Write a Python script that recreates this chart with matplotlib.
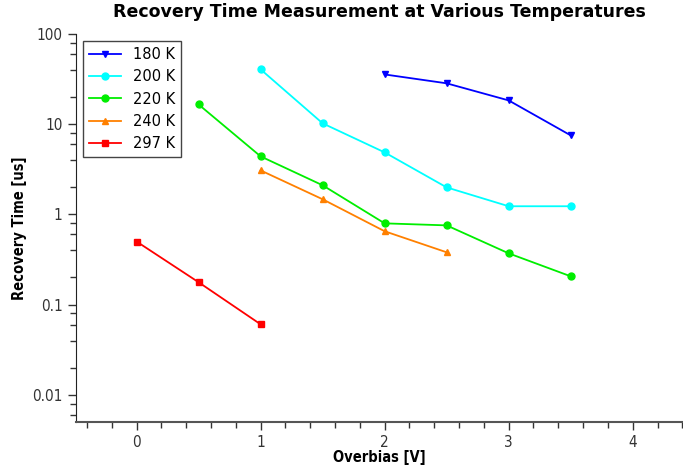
import numpy as np
import matplotlib
matplotlib.use("Agg")
import matplotlib.pyplot as plt
from matplotlib.ticker import MultipleLocator, LogLocator, FixedFormatter, FixedLocator

# Data
x_180 = [2.0, 2.5, 3.0, 3.5]
y_180 = [35.5, 28.3, 18.3, 7.5]

x_200 = [1.0, 1.5, 2.0, 2.5, 3.0, 3.5]
y_200 = [40.4, 10.2, 4.86, 1.99, 1.23, 1.23]

x_220 = [0.5, 1.0, 1.5, 2.0, 2.5, 3.0, 3.5]
y_220 = [16.5, 4.39, 2.1, 0.795, 0.755, 0.37, 0.206]

x_240 = [1.0, 1.5, 2.0, 2.5]
y_240 = [3.07, 1.47, 0.65, 0.38]

x_297 = [0.0, 0.5, 1.0]
y_297 = [0.50, 0.177, 0.0605]

series = [
    ("180 K", x_180, y_180, "#0000ff", "v"),
    ("200 K", x_200, y_200, "#00ffff", "o"),
    ("220 K", x_220, y_220, "#00ee00", "o"),
    ("240 K", x_240, y_240, "#ff8000", "^"),
    ("297 K", x_297, y_297, "#ff0000", "s"),
]

y_ticks = [0.01, 0.1, 1, 10, 100]
y_ticklabels = ["0.01", "0.1", "1", "10", "100"]

plt.rcParams["font.family"] = "DejaVu Sans"

fig = plt.figure(figsize=(6.83, 4.70), dpi=100)
ax = fig.add_axes([0.111, 0.102, 0.888, 0.826])

for label, xs, ys, color, marker in series:
    ax.plot(xs, ys, color=color, marker=marker, markersize=5, lw=1.3,
            label=label)

ax.set_yscale("log")
ax.set_xlim(-0.49, 4.4)
ax.set_ylim(0.005, 100)

ax.yaxis.set_major_locator(FixedLocator(y_ticks))
ax.yaxis.set_major_formatter(FixedFormatter(y_ticklabels))
ax.yaxis.set_minor_locator(LogLocator(base=10, subs=[2, 4, 6, 8]))
ax.yaxis.set_minor_formatter(plt.NullFormatter())
ax.xaxis.set_major_locator(MultipleLocator(1))
ax.xaxis.set_minor_locator(MultipleLocator(0.2))

ax.tick_params(which="major", length=6, width=1, labelsize=11,
               colors="#333333", labelcolor="#333333")
ax.tick_params(which="minor", length=4, width=1, colors="#333333")
for lbl in ax.get_xticklabels() + ax.get_yticklabels():
    lbl.set_fontstretch("condensed")

ax.spines["top"].set_visible(False)
ax.spines["right"].set_visible(False)
ax.spines["left"].set_color("#222222")
ax.spines["bottom"].set_color("#555555")
ax.spines["bottom"].set_linewidth(1.5)

ax.set_xlabel("Overbias [V]", fontsize=10.5, fontweight="bold",
              fontstretch="condensed", labelpad=0)
ax.set_ylabel("Recovery Time [us]", fontsize=10.5, fontweight="bold",
              fontstretch="condensed")
ax.set_title("Recovery Time Measurement at Various Temperatures",
             fontsize=12.5, fontweight="bold", pad=12)

leg = ax.legend(loc="upper left", fontsize=10.5, fancybox=False,
                framealpha=1, edgecolor="#444444",
                borderaxespad=0.5, handlelength=2.2)
leg.get_frame().set_linewidth(1.0)

plt.savefig("out.png", dpi=100)
plt.close()
